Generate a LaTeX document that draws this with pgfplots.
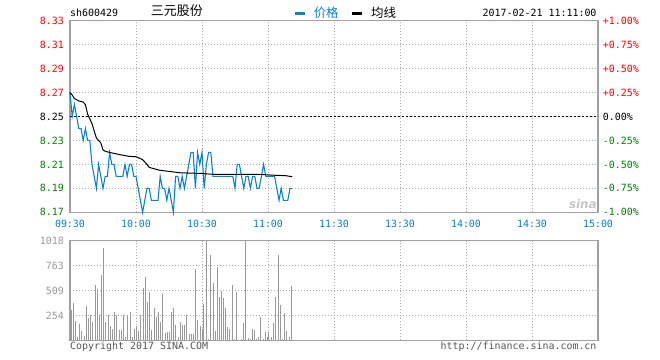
\documentclass[border=0pt]{standalone}
\usepackage{fontspec}
\setmainfont{DejaVu Sans Mono}
\newfontfamily\cjk{Noto Sans CJK SC}
\newfontfamily\wm{DejaVu Sans}
\usepackage{pgfplots}
\pgfplotsset{compat=1.18}
\definecolor{sred}{HTML}{FF0000}
\definecolor{sgreen}{HTML}{008000}
\definecolor{sblue}{HTML}{0A82D2}
\definecolor{tblue}{HTML}{0081CC}
\definecolor{framec}{HTML}{A0A0A0}
\definecolor{gridc}{HTML}{ADADAD}
\definecolor{volc}{HTML}{999999}
\definecolor{txtgrey}{HTML}{555555}
\pgfplotsset{
  sinabase/.style={
    scale only axis, width=528bp, anchor=south west,
    xmin=0, xmax=240, xtick={0,30,...,240},
    major tick length=0pt,
    tick label style={font=\fontsize{10}{12}\selectfont},
    axis line style={draw=framec, line width=1.5bp},
    grid=major,
    major grid style={draw=gridc, line width=1bp, dash pattern=on 1bp off 2bp},
    clip=false,
  }
}
\begin{document}
\begin{tikzpicture}[x=1bp,y=1bp]
\useasboundingbox (0bp,0bp) rectangle (660bp,360bp);
% ---------------- price panel ----------------
\begin{axis}[sinabase,
  at={(70bp,147.7bp)}, height=191.6bp,
  ymin=8.17, ymax=8.33,
  xticklabels={09:30,10:00,10:30,11:00,11:30,13:30,14:00,14:30,15:00},
  xticklabel style={text=tblue, inner sep=0pt, yshift=-7.5bp},
  ytick={8.17,8.19,8.21,8.23,8.25,8.27,8.29,8.31,8.33},
  yticklabels={\textcolor{sgreen}{8.17},\textcolor{sgreen}{8.19},\textcolor{sgreen}{8.21},\textcolor{sgreen}{8.23},8.25,\textcolor{sred}{8.27},\textcolor{sred}{8.29},\textcolor{sred}{8.31},\textcolor{sred}{8.33}},
  yticklabel style={inner sep=0pt, xshift=-6bp},
  legend columns=2,
  legend cell align=left,
  legend style={at={(0.4225,1.04)}, anchor=west, draw=none, fill=none, inner sep=0pt,
    font=\cjk\fontsize{12.5}{13}\selectfont,
    /tikz/every even column/.append style={column sep=10bp}},
  legend image code/.code={\draw[#1,line width=3bp] (0bp,0bp) -- (10bp,0bp);\path[draw=none] (0bp,0bp) -- (17bp,0bp);},
]
\addplot[black, line width=1bp, dash pattern=on 2bp off 2bp, forget plot] coordinates {(0,8.25) (240,8.25)};
\addplot[sblue, line width=1.1bp, sharp plot] coordinates {
(0,8.27) (1,8.25) (2,8.26) (3,8.25) (4,8.24) (5,8.24) (6,8.23) (7,8.24) (8,8.23) (9,8.23)
(10,8.21) (11,8.20) (12,8.19) (13,8.21) (14,8.20) (15,8.19) (16,8.20) (17,8.20) (18,8.22) (19,8.21)
(20,8.21) (21,8.20) (22,8.20) (23,8.20) (24,8.20) (25,8.21) (26,8.20) (27,8.21) (28,8.21) (29,8.20)
(30,8.20) (31,8.19) (32,8.18) (33,8.17) (34,8.18) (35,8.19) (36,8.19) (37,8.18) (38,8.18) (39,8.18)
(40,8.18) (41,8.20) (42,8.19) (43,8.19) (44,8.18) (45,8.19) (46,8.18) (47,8.17) (48,8.20) (49,8.20)
(50,8.19) (51,8.20) (52,8.19) (53,8.20) (54,8.21) (55,8.22) (56,8.22) (57,8.19) (58,8.22) (59,8.21)
(60,8.22) (61,8.19) (62,8.21) (63,8.22) (64,8.22) (65,8.20) (66,8.20) (67,8.20) (68,8.20) (69,8.20)
(70,8.20) (71,8.20) (72,8.20) (73,8.20) (74,8.20) (75,8.19) (76,8.21) (77,8.21) (78,8.20) (79,8.19)
(80,8.20) (81,8.20) (82,8.19) (83,8.20) (84,8.20) (85,8.19) (86,8.19) (87,8.20) (88,8.21) (89,8.20)
(90,8.20) (91,8.20) (92,8.20) (93,8.20) (94,8.19) (95,8.18) (96,8.19) (97,8.18) (98,8.18) (99,8.18)
(100,8.19) (101,8.19)};
\addlegendentry{\textcolor{sblue}{价格}}
\addplot[black, line width=1bp, sharp plot] coordinates {
(0,8.27) (1,8.268) (2,8.265) (4,8.263) (6,8.262) (7,8.26) (8,8.252) (10,8.244) (12,8.232)
(14,8.228) (15,8.222) (16,8.221) (18,8.220) (23,8.218) (27,8.2167) (30,8.2164) (33,8.214)
(35,8.210) (36,8.2075) (41,8.205) (44,8.2044) (50,8.203) (59,8.2025) (65,8.2017) (86,8.2017)
(92,8.201) (98,8.2006) (101,8.1997)};
\addlegendentry{均线}
\end{axis}
% ---------------- percent axis (right) ----------------
\begin{axis}[scale only axis, width=528bp, height=191.6bp, anchor=south west,
  at={(70bp,147.7bp)}, xmin=0, xmax=240, ymin=-1, ymax=1,
  axis x line=none, axis y line*=right, axis line style={draw=none},
  major tick length=0pt,
  tick label style={font=\fontsize{10}{12}\selectfont},
  ytick={-1,-0.75,-0.5,-0.25,0,0.25,0.5,0.75,1},
  yticklabels={\textcolor{sgreen}{-1.00\%},\textcolor{sgreen}{-0.75\%},\textcolor{sgreen}{-0.50\%},\textcolor{sgreen}{-0.25\%},0.00\%,\textcolor{sred}{+0.25\%},\textcolor{sred}{+0.50\%},\textcolor{sred}{+0.75\%},\textcolor{sred}{+1.00\%}},
  yticklabel style={inner sep=0pt, xshift=4.7bp},
]
\addplot[draw=none] coordinates {(0,0)};
\end{axis}
% ---------------- volume panel ----------------
\begin{axis}[sinabase,
  at={(70bp,19.7bp)}, height=99.6bp,
  ymin=0, ymax=1018,
  xticklabels={},
  ytick={254,509,763,1018},
  yticklabels={254,509,763,1018},
  yticklabel style={text=volc, inner sep=0pt, xshift=-6bp},
]
\addplot[ycomb, draw=volc, line width=1bp] coordinates {
(0.5,310) (1.5,385) (2.4,201) (3.3,31) (4.2,167) (5.2,99) (6.7,44) (7.6,351) (8.3,232) (9.4,259)
(10.3,191) (11.5,565) (12.4,524) (13.3,255) (14.2,667) (15.2,943) (16.1,191) (17.3,259) (18.5,146) (19.4,116)
(20.3,286) (21.2,259) (22.4,106) (23.3,106) (24.2,259) (25.2,37) (26.1,252) (27.3,293) (28.2,37) (29.4,116)
(30.3,146) (31.2,99) (32.1,259) (33.3,534) (34.2,647) (35.2,395) (36.1,494) (37.0,106) (38.5,330) (39.4,242)
(40.3,293) (41.2,191) (42.1,473) (43.3,71) (44.2,82) (45.2,82) (46.1,286) (47.0,330) (47.9,157) (49.4,37)
(50.3,187) (51.2,160) (52.1,153) (53.0,259) (54.2,65) (55.2,65) (56.1,65) (57.0,729) (57.9,208) (59.1,146)
(60.0,112) (60.9,371) (62.0,1018) (62.9,17) (63.8,875) (65.2,589) (66.1,99) (67.0,749) (67.9,446) (68.8,507)
(69.7,436) (70.6,334) (71.8,140) (72.7,119) (73.8,565) (74.7,17) (75.9,497) (77.1,7) (78.0,17) (78.9,180)
(79.7,1018) (81.1,27) (82.0,17) (82.9,116) (83.8,106) (84.7,17) (85.9,37) (86.8,242) (87.9,17) (88.8,89)
(89.7,37) (90.3,89) (91.8,37) (92.7,180) (93.6,446) (94.7,875) (95.6,361) (96.8,17) (97.7,283) (98.6,99)
(99.7,31) (100.8,555)};
\end{axis}
% ---------------- header / footer texts ----------------
\node[anchor=base west, inner sep=0pt, font=\fontsize{10}{12}\selectfont] at (70bp,343.3bp) {sh600429};
\node[anchor=base west, inner sep=0pt, font=\cjk\fontsize{13}{13}\selectfont] at (150.7bp,344bp) {三元股份};
\node[anchor=base east, inner sep=0pt, font=\fontsize{10}{12}\selectfont] at (596.7bp,343.3bp) {2017-02-21 11:11:00};
\node[anchor=base west, inner sep=0pt, text=txtgrey, font=\fontsize{10}{12}\selectfont] at (70bp,10.7bp) {Copyright 2017 SINA.COM};
\node[anchor=base east, inner sep=0pt, text=txtgrey, font=\fontsize{10}{12}\selectfont] at (596.7bp,11bp) {http://finance.sina.com.cn};
\node[anchor=base east, inner sep=0pt, text=gray!45, font=\wm\bfseries\itshape\fontsize{12}{12}\selectfont] at (597bp,151bp) {sina};
\end{tikzpicture}
\end{document}
